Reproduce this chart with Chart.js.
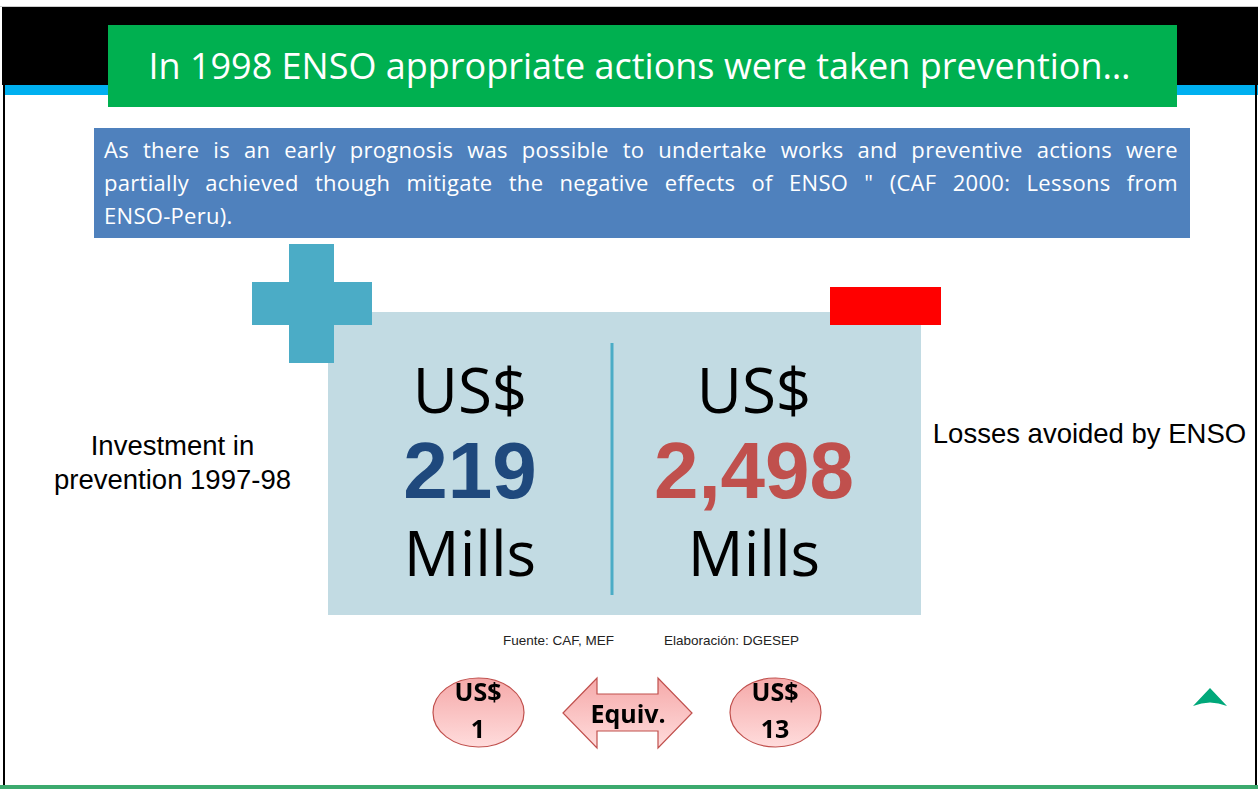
<!DOCTYPE html>
<html>
<head>
<meta charset="utf-8">
<script src="https://cdn.jsdelivr.net/npm/chart.js@4.4.1/dist/chart.umd.min.js"></script>
<style>
  html, body { margin: 0; padding: 0; background: #fff; }
  #slide { position: relative; width: 1258px; height: 789px; overflow: hidden; background: #fff; font-family: "Open Sans", sans-serif; }
  .abs { position: absolute; }
  #title { left: 108px; top: 25px; width: 1069px; height: 82px; background: #00b050; color: #fff;
    font-size: 36px; line-height: 82px; text-align: center; white-space: nowrap; padding-right: 6px; box-sizing: border-box; }
  #quote { left: 94px; top: 128px; width: 1096px; height: 110px; background: #4f81bd; color: #fff;
    font-size: 22px; letter-spacing: 0.3px; line-height: 33px; box-sizing: border-box; padding: 5px 12px 0 10px; }
  #quote .j { text-align: justify; text-align-last: justify; white-space: nowrap; }
  .side { font-family: "Liberation Sans", Arial, sans-serif; font-size: 27.5px; line-height: 34px; color: #000; text-align: center; }
  .src { font-family: "Liberation Sans", Arial, sans-serif; font-size: 13.5px; color: #222; }
  #panel { left: 328px; top: 312px; width: 593px; height: 303px; }
</style>
</head>
<body>
<div id="slide">
  <div class="abs" style="left:0;top:6px;width:1258px;height:1px;background:#ccc"></div>
  <div class="abs" style="left:2px;top:7px;width:1256px;height:78px;background:#000"></div>
  <div class="abs" style="left:4px;top:85px;width:1254px;height:10px;background:#00b0f0"></div>
  <div class="abs" style="left:3px;top:85px;width:2px;height:704px;background:#000"></div>
  <div class="abs" style="left:1255px;top:85px;width:2px;height:704px;background:#000"></div>
  <div class="abs" style="left:0;top:785px;width:1258px;height:4px;background:#3caa6e"></div>

  <div id="title" class="abs">In 1998 ENSO appropriate actions were taken prevention…</div>

  <div id="quote" class="abs">
    <div class="j">As there is an early prognosis was possible to undertake works and preventive actions were</div>
    <div class="j">partially achieved though mitigate the negative effects of ENSO " (CAF 2000: Lessons from</div>
    <div>ENSO-Peru).</div>
  </div>

  <div id="panel" class="abs"><canvas id="enso"></canvas></div>

  <!-- plus / minus signs, drawn over the panel -->
  <div class="abs" style="left:289px;top:244px;width:45px;height:119px;background:#4bacc6"></div>
  <div class="abs" style="left:252px;top:282px;width:120px;height:43px;background:#4bacc6"></div>
  <div class="abs" style="left:830px;top:287px;width:111px;height:38px;background:#ff0000"></div>

  <div id="labL" class="abs side" style="left:30px;top:429px;width:285px"></div>
  <div id="labR" class="abs side" style="left:926px;top:417px;width:327px;white-space:nowrap"></div>

  <div class="abs src" style="left:503px;top:633px">Fuente: CAF, MEF</div>
  <div class="abs src" style="left:664px;top:633px">Elaboración: DGESEP</div>

  <svg class="abs" style="left:0;top:0" width="1258" height="789">
    <defs>
      <linearGradient id="pk" x1="0" y1="0" x2="0" y2="1">
        <stop offset="0" stop-color="#f5a9a9"/>
        <stop offset="1" stop-color="#ffdcdc"/>
      </linearGradient>
    </defs>
    <ellipse cx="478.5" cy="712.5" rx="45.5" ry="34.5" fill="url(#pk)" stroke="#c0504d" stroke-width="1.2"/>
    <ellipse cx="775.5" cy="712.5" rx="45.5" ry="34.5" fill="url(#pk)" stroke="#c0504d" stroke-width="1.2"/>
    <path d="M563,713 L597,678 L597,694 L658,694 L658,678 L692,713 L658,748 L658,731 L597,731 L597,748 Z"
          fill="url(#pk)" stroke="#c0504d" stroke-width="1.2"/>
    <g font-family="Open Sans, sans-serif" font-weight="bold" font-size="25" text-anchor="middle" fill="#000">
      <text x="478" y="701">US$</text>
      <text x="478" y="738">1</text>
      <text x="628" y="723">Equiv.</text>
      <text x="775" y="701">US$</text>
      <text x="775" y="738">13</text>
    </g>
    <path d="M1193,706 L1210,688 L1227,706 Q1210,699 1193,706 Z" fill="#00a87a"/>
  </svg>
</div>

<script>
// values
const categories = ['Investment in prevention 1997-98', 'Losses avoided by ENSO'];
const labelLines = [['Investment in', 'prevention 1997-98'], ['Losses avoided by ENSO']];
const amounts = [219, 2498];
const currency = ['US$', 'US$'];
const units = ['Mills', 'Mills'];
const amountColors = ['#1f497d', '#c0504d'];

document.getElementById('labL').innerHTML = labelLines[0].join('<br>');
document.getElementById('labR').innerHTML = labelLines[1].join('<br>');

const panelText = {
  id: 'panelText',
  beforeDraw(chart) {
    const ctx = chart.ctx;
    ctx.save();
    ctx.fillStyle = '#c2dbe3';
    ctx.fillRect(0, 0, chart.width, chart.height);
    ctx.restore();
  },
  afterDatasetsDraw(chart) {
    const ctx = chart.ctx;
    const area = chart.chartArea;
    const bars = chart.getDatasetMeta(0).data;
    ctx.save();
    // divider between the two columns
    const mid = (bars[0].x + bars[1].x) / 2;
    ctx.strokeStyle = '#4bacc6';
    ctx.lineWidth = 3;
    ctx.beginPath();
    ctx.moveTo(mid, area.top + 31);
    ctx.lineTo(mid, area.top + 283);
    ctx.stroke();

    ctx.textAlign = 'center';
    ctx.textBaseline = 'middle';
    bars.forEach((bar, i) => {
      ctx.fillStyle = '#000';
      ctx.font = '62px "Open Sans"';
      ctx.fillText(currency[i], bar.x, area.top + 83);
      ctx.fillStyle = amountColors[i];
      ctx.font = 'bold 80px "Liberation Sans"';
      ctx.fillText(amounts[i].toLocaleString('en-US'), bar.x, area.top + 164);
      ctx.fillStyle = '#000';
      ctx.font = '62px "Open Sans"';
      ctx.fillText(units[i], bar.x, area.top + 246);
    });
    ctx.restore();
  }
};

new Chart(document.getElementById('enso'), {
  type: 'bar',
  data: {
    labels: categories,
    datasets: [{
      label: 'US$ Mills',
      data: amounts,
      backgroundColor: 'rgba(0,0,0,0)',
      borderWidth: 0
    }]
  },
  options: {
    responsive: true,
    maintainAspectRatio: false,
    animation: false,
    layout: { padding: { left: 0, right: 25, top: 0, bottom: 0 } },
    plugins: { legend: { display: false }, tooltip: { enabled: false } },
    scales: {
      x: { display: false },
      y: { display: false, beginAtZero: true }
    }
  },
  plugins: [panelText]
});
</script>
</body>
</html>
